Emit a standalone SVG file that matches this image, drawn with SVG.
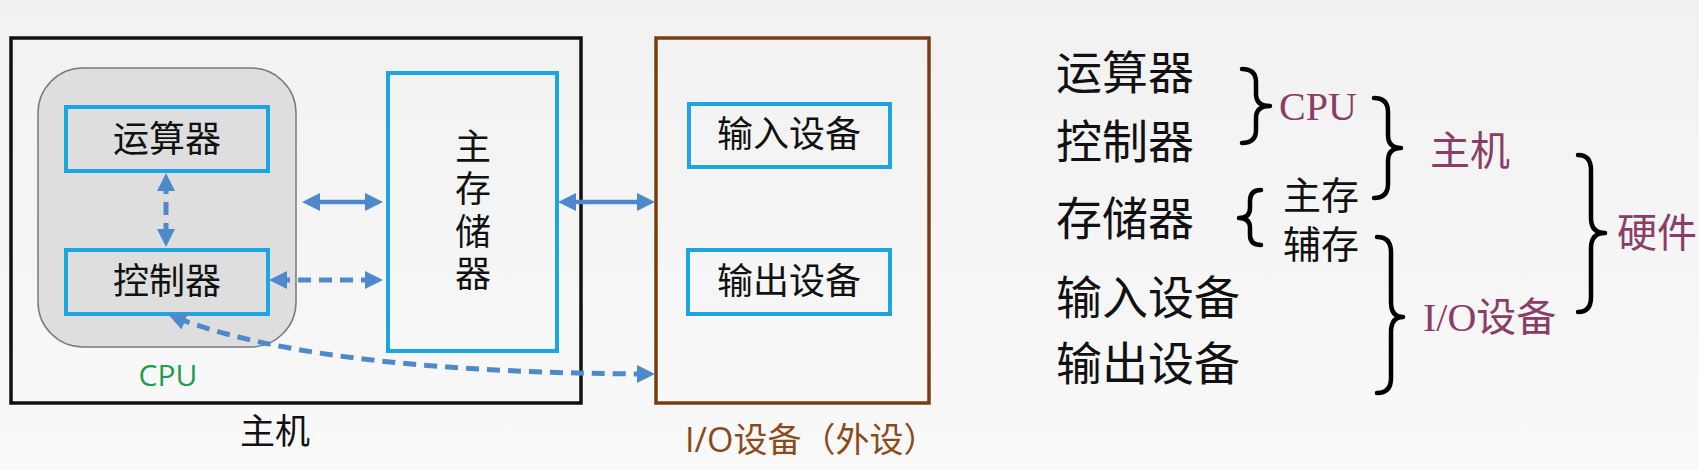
<svg xmlns="http://www.w3.org/2000/svg" width="1699" height="470" viewBox="0 0 1699 470">
  <defs>
    <linearGradient id="bg" x1="0" y1="0" x2="0" y2="1">
      <stop offset="0" stop-color="#f1f1f1"/>
      <stop offset="1" stop-color="#f9f9f9"/>
    </linearGradient>
    <marker id="ah" markerUnits="userSpaceOnUse" markerWidth="18" markerHeight="18" viewBox="0 0 18 18" refX="10" refY="9" orient="auto-start-reverse">
      <path d="M0,0 L18,9 L0,18 z" fill="#4e8acb"/>
    </marker>
    <style>
      .blue { fill: none; stroke: #1ba6e3; stroke-width: 4; }
      .cjk { font-family: "Noto Sans CJK SC", sans-serif; fill: #111; }
      .big { font-size: 46px; }
      .mid { font-size: 38px; }
      .conn { fill: none; stroke: #4e8acb; stroke-width: 4.5; marker-start: url(#ah); marker-end: url(#ah); }
      .dash { stroke-width: 5; stroke-dasharray: 13 8; }
      .brace { fill: none; stroke: #000; stroke-width: 4.5; stroke-linecap: round; stroke-linejoin: round; }
      .pur { fill: #8a3d66; font-size: 40px; }
    </style>
  </defs>
  <rect x="0" y="0" width="1699" height="470" fill="url(#bg)"/>

  <g id="host">
    <rect x="11" y="38" width="570" height="365" fill="none" stroke="#111" stroke-width="3.5"/>
    <text class="cjk" x="275" y="444" font-size="35" text-anchor="middle">主机</text>
  </g>
  <g id="cpu">
    <rect x="38" y="68" width="258" height="279" rx="45" fill="#dedede" stroke="#7a7a7a" stroke-width="1.5"/>
    <text x="168" y="386" font-family="Open Sans, sans-serif" font-size="30" fill="#1e9e4a" text-anchor="middle">CPU</text>
  </g>
  <g id="alu">
    <rect class="blue" x="66" y="107" width="202" height="64"/>
    <text class="cjk" x="167" y="152" font-size="36" text-anchor="middle">运算器</text>
  </g>
  <g id="ctrl">
    <rect class="blue" x="66" y="250" width="202" height="64"/>
    <text class="cjk" x="167" y="294" font-size="36" text-anchor="middle">控制器</text>
  </g>
  <g id="mem">
    <rect class="blue" x="388" y="73" width="169" height="278"/>
    <text class="cjk" x="473" y="128" font-size="36" style="writing-mode: vertical-rl; letter-spacing: 6.5px">主存储器</text>
  </g>
  <g id="io">
    <rect x="656" y="38" width="273" height="365" fill="none" stroke="#7b3c14" stroke-width="3.5"/>
    <text x="685" y="452" font-family="Open Sans, 'Noto Sans CJK SC', sans-serif" font-size="34" fill="#8a4a1c">I/O设备（外设）</text>
  </g>
  <g id="input">
    <rect class="blue" x="689" y="104" width="201" height="63"/>
    <text class="cjk" x="789" y="147" font-size="36" text-anchor="middle">输入设备</text>
  </g>
  <g id="output">
    <rect class="blue" x="688" y="250" width="202" height="64"/>
    <text class="cjk" x="789" y="294" font-size="36" text-anchor="middle">输出设备</text>
  </g>

  <g id="connectors">
    <path class="conn dash" d="M166,181 L166,239"/>
    <path class="conn" d="M310,202 L375,202"/>
    <path class="conn dash" d="M277,280 L375,280"/>
    <path class="conn" d="M566,202 L647,202"/>
    <path class="conn dash" d="M647,374 C450,373 280,358 175.6,317.5"/>
  </g>

  <g id="hierarchy">
    <text class="cjk big" x="1056" y="89">运算器</text>
    <text class="cjk big" x="1056" y="158">控制器</text>
    <text class="cjk big" x="1056" y="235">存储器</text>
    <text class="cjk big" x="1056" y="314">输入设备</text>
    <text class="cjk big" x="1056" y="380">输出设备</text>
    <path class="brace" d="M1242,69 Q1256,69 1256,82 L1256,94 Q1256,106 1270,106 Q1256,106 1256,118 L1256,130 Q1256,143 1242,143"/>
    <text class="pur" x="1279" y="120" font-family="Liberation Serif, serif">CPU</text>
    <path class="brace" d="M1374,98 Q1388,98 1388,112 L1388,135 Q1388,148 1401,148 Q1388,148 1388,161 L1388,184 Q1388,198 1374,198"/>
    <text class="pur" x="1430" y="165" font-family="'Noto Sans CJK SC', sans-serif">主机</text>
    <path class="brace" d="M1261,190 Q1250,190 1250,201 L1250,208 Q1250,218 1239,218 Q1250,218 1250,228 L1250,235 Q1250,245 1261,245"/>
    <text class="cjk mid" x="1283" y="209">主存</text>
    <text class="cjk mid" x="1283" y="258">辅存</text>
    <path class="brace" d="M1377,237 Q1391,237 1391,252 L1391,302 Q1391,317 1403,317 Q1391,317 1391,332 L1391,378 Q1391,393 1377,393"/>
    <text class="pur" x="1423" y="331" font-family="Liberation Serif, 'Noto Sans CJK SC', serif">I/O设备</text>
    <path class="brace" d="M1578,155 Q1591,155 1591,170 L1591,218 Q1591,233 1605,233 Q1591,233 1591,248 L1591,297 Q1591,312 1578,312"/>
    <text class="pur" x="1617" y="247" font-family="'Noto Sans CJK SC', sans-serif">硬件</text>
  </g>
</svg>
